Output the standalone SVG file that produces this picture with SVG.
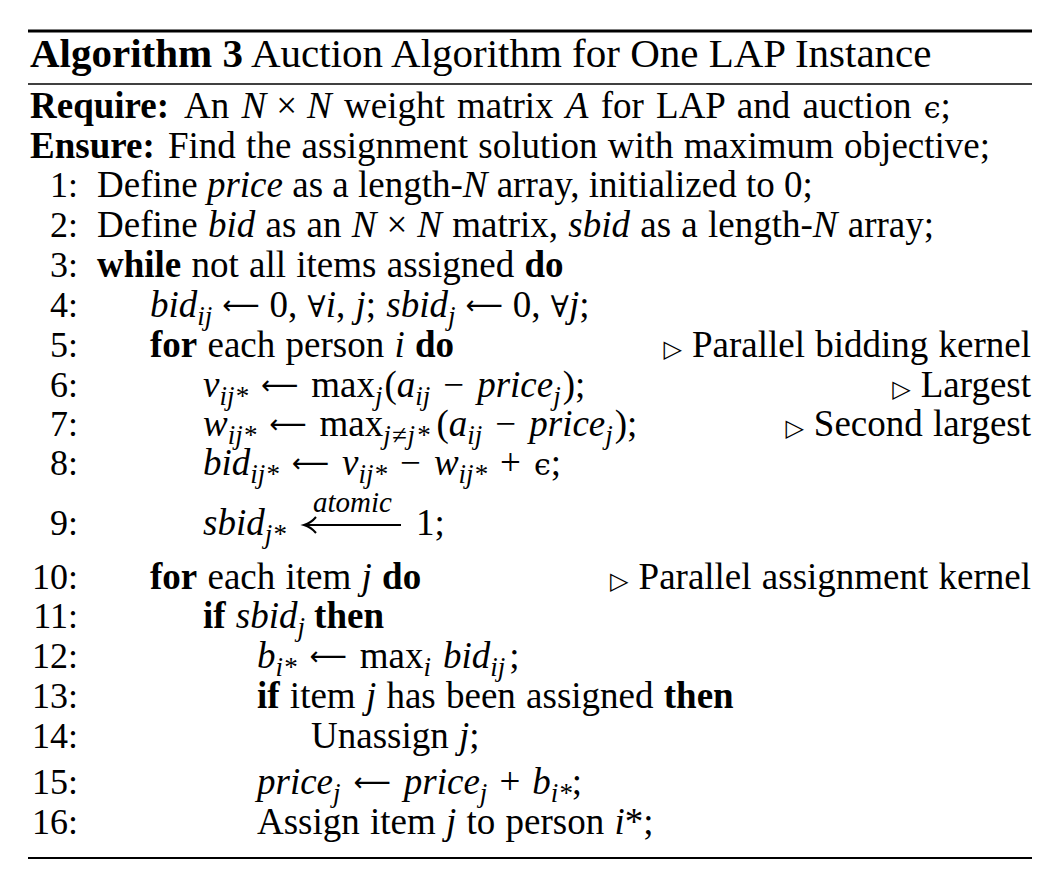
<svg xmlns="http://www.w3.org/2000/svg" width="1064" height="895" viewBox="0 0 1064 895">
<style>
text{font-family:"Liberation Serif","DejaVu Serif",serif;font-size:37px;fill:#000;word-spacing:1px}
.ti{font-size:41px;word-spacing:0}
.b{font-weight:bold}
.i{font-style:italic}
.s{font-size:27px}
.m{font-family:"DejaVu Serif","Liberation Serif",serif;font-size:30px}
.ar{font-family:"DejaVu Sans",sans-serif;font-size:26px}
.n{text-anchor:end;font-size:36px}
.c{text-anchor:end}
.tri{font-family:"DejaVu Sans",sans-serif;font-size:24px}
.rule{stroke:#000}
</style>
<rect width="1064" height="895" fill="#fff"/>
<g id="rules">
<line class="rule" x1="28" y1="31" x2="1032" y2="31" stroke-width="3"/>
<line class="rule" x1="28" y1="84" x2="1032" y2="84" stroke-width="1.6"/>
<line class="rule" x1="28" y1="858" x2="1032" y2="858" stroke-width="2"/>
</g>
<g id="title">
<text class="ti" x="30" y="67"><tspan class="b">Algorithm 3</tspan> Auction Algorithm for One LAP Instance</text>
</g>
<g id="header">
<text x="30" y="118" style="word-spacing:3px"><tspan class="b">Require:</tspan><tspan x="184">An </tspan><tspan class="i">N</tspan><tspan dx="10">×</tspan><tspan dx="10" class="i">N</tspan> weight matrix <tspan class="i">A</tspan> for LAP and auction <tspan class="m">ϵ</tspan>;</text>
<text x="30" y="158"><tspan class="b">Ensure:</tspan><tspan x="168">Find the assignment solution with maximum objective;</tspan></text>
</g>
<g id="numbers">
<text class="n" x="78" y="197">1:</text>
<text class="n" x="78" y="237">2:</text>
<text class="n" x="78" y="277">3:</text>
<text class="n" x="78" y="317">4:</text>
<text class="n" x="78" y="357">5:</text>
<text class="n" x="78" y="397">6:</text>
<text class="n" x="78" y="436">7:</text>
<text class="n" x="78" y="475">8:</text>
<text class="n" x="78" y="535">9:</text>
<text class="n" x="78" y="589">10:</text>
<text class="n" x="78" y="628">11:</text>
<text class="n" x="78" y="668">12:</text>
<text class="n" x="78" y="708">13:</text>
<text class="n" x="78" y="748">14:</text>
<text class="n" x="78" y="794">15:</text>
<text class="n" x="78" y="834">16:</text>
</g>
<g id="body">
<text x="97" y="197" style="word-spacing:0">Define <tspan class="i">price</tspan> as a length-<tspan class="i">N</tspan> array, initialized to 0;</text>
<text x="97" y="237">Define <tspan class="i">bid</tspan> as an <tspan class="i">N</tspan><tspan dx="10">×</tspan><tspan dx="10" class="i">N</tspan> matrix, <tspan class="i">sbid</tspan> as a length-<tspan class="i">N</tspan> array;</text>
<text x="97" y="277"><tspan class="b">while</tspan> not all items assigned <tspan class="b">do</tspan></text>
<text x="150" y="317"><tspan class="i">bid</tspan><tspan class="i s" dy="8">ij</tspan><tspan class="ar" dy="-11" dx="10">⟵</tspan><tspan dy="3" dx="10">0, </tspan><tspan class="m">∀</tspan><tspan class="i">i</tspan>, <tspan class="i">j</tspan>; <tspan class="i">sbid</tspan><tspan class="i s" dy="8">j</tspan><tspan class="ar" dy="-11" dx="10">⟵</tspan><tspan dy="3" dx="10">0, </tspan><tspan class="m">∀</tspan><tspan class="i">j</tspan>;</text>
<text x="150" y="357"><tspan class="b">for</tspan> each person <tspan class="i">i</tspan> <tspan class="b">do</tspan></text>
<text x="203" y="397"><tspan class="i">v</tspan><tspan class="i s" dy="8">ij*</tspan><tspan class="ar" dy="-11" dx="13">⟵</tspan><tspan dy="3" dx="13">max</tspan><tspan class="i s" dy="8">j</tspan><tspan dy="-8" dx="2">(</tspan><tspan class="i">a</tspan><tspan class="i s" dy="8">ij</tspan><tspan dy="-8" dx="13">−</tspan><tspan class="i" dx="13">price</tspan><tspan class="i s" dy="8">j</tspan><tspan dy="-8" dx="2">);</tspan></text>
<text x="203" y="436"><tspan class="i">w</tspan><tspan class="i s" dy="8">ij*</tspan><tspan class="ar" dy="-11" dx="13">⟵</tspan><tspan dy="3" dx="13">max</tspan><tspan class="i s" dy="8" style="letter-spacing:1px">j≠j*</tspan><tspan dy="-8" dx="6">(</tspan><tspan class="i">a</tspan><tspan class="i s" dy="8">ij</tspan><tspan dy="-8" dx="13">−</tspan><tspan class="i" dx="13">price</tspan><tspan class="i s" dy="8">j</tspan><tspan dy="-8" dx="2">);</tspan></text>
<text x="203" y="475"><tspan class="i">bid</tspan><tspan class="i s" dy="8">ij*</tspan><tspan class="ar" dy="-11" dx="13">⟵</tspan><tspan class="i" dy="3" dx="13">v</tspan><tspan class="i s" dy="8">ij*</tspan><tspan dy="-8" dx="13">−</tspan><tspan class="i" dx="13">w</tspan><tspan class="i s" dy="8">ij*</tspan><tspan dy="-8" dx="13">+</tspan><tspan class="m" dx="13">ϵ</tspan>;</text>
<text x="203" y="535"><tspan class="i">sbid</tspan><tspan class="i s" dy="8">j*</tspan></text>
<text class="i" x="313" y="512" style="font-size:29px;word-spacing:0">atomic</text>
<line x1="306" y1="525" x2="401" y2="525" stroke="#000" stroke-width="2"/>
<path d="M316,517 Q311,523 304,525 Q311,527 316,533" fill="none" stroke="#000" stroke-width="2"/>
<text x="416" y="535">1;</text>
<text x="150" y="589"><tspan class="b">for</tspan> each item <tspan class="i">j</tspan> <tspan class="b">do</tspan></text>
<text x="203" y="628"><tspan class="b">if</tspan> <tspan class="i">sbid</tspan><tspan class="i s" dy="8">j</tspan><tspan dy="-8" class="b" dx="9">then</tspan></text>
<text x="257" y="668"><tspan class="i">b</tspan><tspan class="i s" dy="8">i*</tspan><tspan class="ar" dy="-11" dx="13">⟵</tspan><tspan dy="3" dx="13">max</tspan><tspan class="i s" dy="8">i</tspan><tspan dy="-8" dx="12" class="i">bid</tspan><tspan class="i s" dy="8">ij</tspan><tspan dy="-8" dx="4">;</tspan></text>
<text x="257" y="708"><tspan class="b">if</tspan> item <tspan class="i">j</tspan> has been assigned <tspan class="b">then</tspan></text>
<text x="311" y="748">Unassign <tspan class="i">j</tspan>;</text>
<text x="257" y="794"><tspan class="i">price</tspan><tspan class="i s" dy="8">j</tspan><tspan class="ar" dy="-11" dx="13">⟵</tspan><tspan class="i" dy="3" dx="13">price</tspan><tspan class="i s" dy="8">j</tspan><tspan dy="-8" dx="12">+</tspan><tspan class="i" dx="12">b</tspan><tspan class="i s" dy="8">i*</tspan><tspan dy="-8">;</tspan></text>
<text x="257" y="834">Assign item <tspan class="i">j</tspan> to person <tspan class="i">i</tspan>*;</text>
</g>
<g id="comments">
<text class="c" x="1031" y="357"><tspan class="tri">▷</tspan><tspan dx="10">Parallel bidding kernel</tspan></text>
<text class="c" x="1031" y="397"><tspan class="tri">▷</tspan><tspan dx="10">Largest</tspan></text>
<text class="c" x="1031" y="436"><tspan class="tri">▷</tspan><tspan dx="10">Second largest</tspan></text>
<text class="c" x="1031" y="589"><tspan class="tri">▷</tspan><tspan dx="10">Parallel assignment kernel</tspan></text>
</g>
</svg>
